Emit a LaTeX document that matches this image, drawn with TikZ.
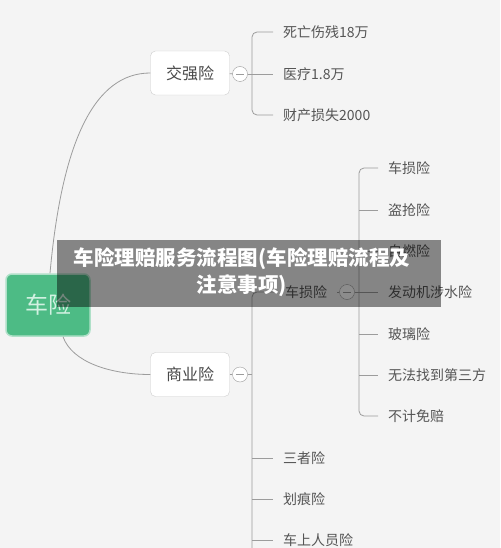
\documentclass[tikz,border=0pt]{standalone}
\usepackage{fontspec}
\setmainfont{Noto Sans CJK SC}
\usepackage{tikz}
\usetikzlibrary{arrows,backgrounds}
\definecolor{bgcol}{HTML}{F4F4F4}
\definecolor{rootcol}{HTML}{4DBB85}
\definecolor{roottext}{HTML}{D2F1E2}
\definecolor{linecol}{HTML}{9C9C9C}
\definecolor{boxline}{HTML}{CDCDCD}
\definecolor{txtcol}{HTML}{555555}

\begin{document}
\begin{tikzpicture}[x=1pt, y=-1pt,
  link/.style={draw=linecol, line width=0.8pt},
  root/.style={fill=rootcol, draw=rootcol!45!white, line width=1.5pt, rounded corners=6pt, minimum width=84pt, minimum height=62pt, text=roottext, font=\fontsize{23}{25}\selectfont},
  topic/.style={draw=boxline, fill=white, rounded corners=5pt, minimum width=79pt, minimum height=44pt, text=txtcol!85!black, font=\fontsize{16}{18}\selectfont},
  fold/.style={circle, draw=linecol, fill=white, minimum size=15pt, inner sep=0pt,
    path picture={\draw[linecol] ([xshift=-4pt]path picture bounding box.center) -- ([xshift=4pt]path picture bounding box.center);}},
  leaf/.style={anchor=west, inner xsep=10pt, inner ysep=2pt, text=txtcol, font=\fontsize{14}{16}\selectfont},
  ]
  \useasboundingbox (0,0) rectangle (500,548);
  \fill[bgcol] (0,0) rectangle (500,548);

  \node[root]  (car) at (48,305) {车险};
  \node[topic] (jq)  at (190,73)  {交强险};
  \node[topic] (sy)  at (190,374.5) {商业险};
  \node[fold]  (jqc) at (240,74) {};
  \node[fold]  (syc) at (240,374.5) {};

  \node[leaf] (jq1) at (273,32)  {死亡伤残18万};
  \node[leaf] (jq2) at (273,74)  {医疗1.8万};
  \node[leaf] (jq3) at (273,115) {财产损失2000};

  \node[leaf] (cs)  at (275,292) {车损险};
  \node[fold] (csc) at (347,292) {};
  \node[leaf] (sz)  at (273,458) {三者险};
  \node[leaf] (hh)  at (273,499) {划痕险};
  \node[leaf] (cr)  at (273,540) {车上人员险};

  \node[leaf] (c1) at (378,168) {车损险};
  \node[leaf] (c2) at (378,210) {盗抢险};
  \node[leaf] (c3) at (378,251) {自燃险};
  \node[leaf] (c4) at (378,292) {发动机涉水险};
  \node[leaf] (c5) at (378,334) {玻璃险};
  \node[leaf] (c6) at (378,375) {无法找到第三方};
  \node[leaf] (c7) at (378,416) {不计免赔};

  \coordinate (jqb) at (252,74);
  \coordinate (syb) at (252,548);
  \coordinate (csb) at (359,292);

  \draw[link] ([xshift=2pt]car.north) .. controls (62,140) and (95,73) .. (jq.west);
  \draw[link] ([xshift=15pt]car.south) .. controls (72,362) and (110,374.5) .. (sy.west);

  \path[link]
  (jq) edge (jqc)
  (sy) edge (syc)
  (cs) edge (csc)
  (jqc) edge (jq2.west)
  (syc.east) edge (syc.east -| syb)
  (csc) edge (c4.west)
  ;
  \draw[link, rounded corners=5pt] (jq1.west) -- (jq1.west -| jqb) -- (jq3.west -| jqb) -- (jq3.west);
  \draw[link, rounded corners=5pt] (cs.west) -- (cs.west -| syb) -- (syb);
  \draw[link, rounded corners=5pt] (c1.west) -- (c1.west -| csb) -- (c7.west -| csb) -- (c7.west);
  \foreach \n in {sz,hh,cr}
    \draw[link] (syb |- \n.west) -- (\n.west);
  \foreach \n in {c2,c3,c5,c6}
    \draw[link] (csb |- \n.west) -- (\n.west);

  \fill[black, opacity=0.45] (57,240) rectangle (441,307);
  \node[align=center, text=white, font=\bfseries\fontsize{20.5}{27}\selectfont] (title) at (242,272)
    {车险理赔服务流程图(车险理赔流程及\\注意事项)};
\end{tikzpicture}
\end{document}
